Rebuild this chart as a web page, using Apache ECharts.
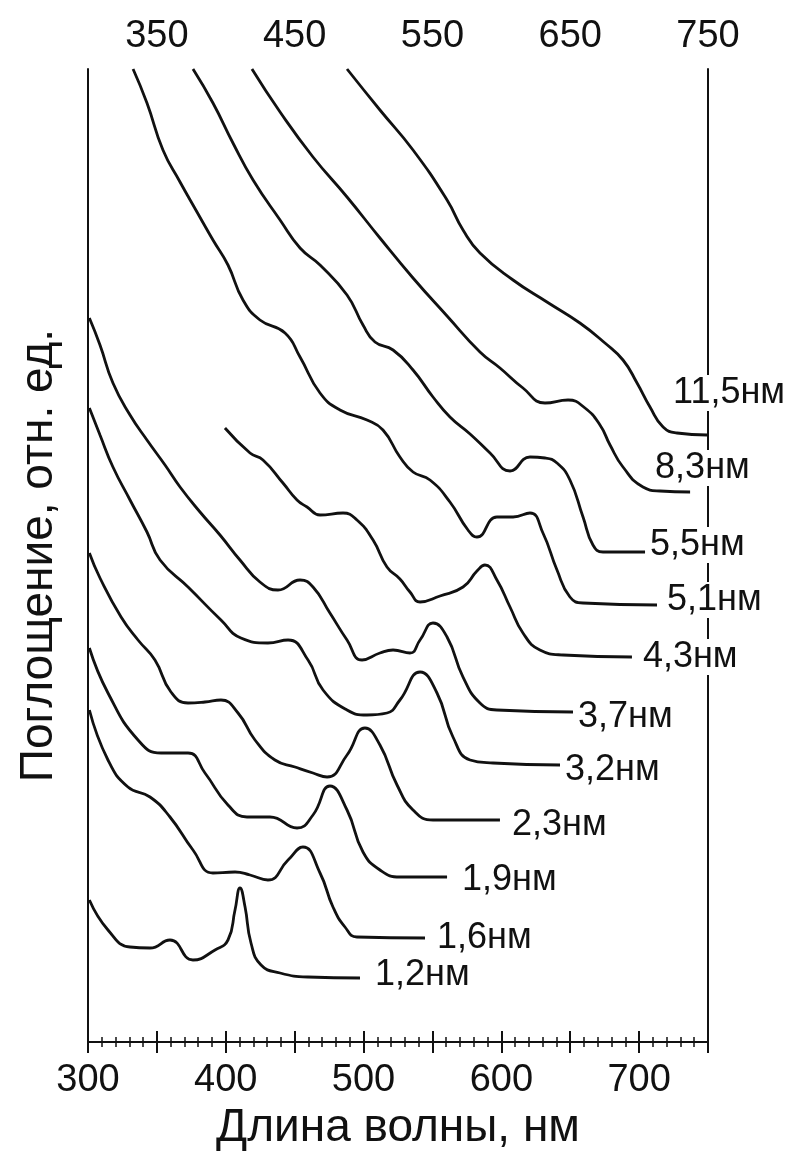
<!DOCTYPE html>
<html>
<head>
<meta charset="utf-8">
<script src="https://cdn.jsdelivr.net/npm/echarts@6/dist/echarts.min.js"></script>
<style>
    html, body { margin: 0; padding: 0; background: #fff; }
    #chart { width: 794px; height: 1153px; }
</style>
</head>
<body>
<div id="chart"></div>
<script>
    // размеры частиц (подписи кривых)
    var sizes = ['11,5нм', '8,3нм', '5,5нм', '5,1нм', '4,3нм', '3,7нм', '3,2нм', '2,3нм', '1,9нм', '1,6нм', '1,2нм'];
    var bottomLabels = [300, 400, 500, 600, 700];
    var topLabels = [350, 450, 550, 650, 750];

    // [длина волны, нм ; поглощение, отн. ед.]
    var c115 = [[488, 97.3], [511.9, 93.2], [535.9, 89.2], [560.6, 84.2], [572.2, 81.2], [584.5, 78.9], [608.5, 76.2], [633.1, 74.0], [657, 71.9], [675.2, 69.9], [688.3, 68.2], [698.5, 65.9], [707.9, 63.5], [717.4, 61.5], [727.5, 60.9], [749.3, 60.7]];
    var c83 = [[419, 97.3], [439.4, 93.0], [463.3, 88.5], [488, 84.5], [511.9, 80.4], [535.9, 76.4], [560.6, 72.6], [584.5, 69.0], [599, 67.4], [615.7, 65.4], [631.7, 63.9], [648.4, 64.2], [660.7, 63.4], [671.6, 61.7], [678.9, 59.7], [688.3, 57.5], [702.8, 55.5], [715.2, 55.1], [737, 55.0]];
    var c55 = [[376.2, 97.3], [390.7, 93.9], [405.2, 89.9], [419.8, 86.2], [439.4, 82.2], [453.9, 79.4], [468.4, 77.7], [488, 74.7], [499.6, 71.7], [508.3, 70.0], [521.4, 69.2], [535.9, 67.2], [550.4, 64.5], [562.7, 62.5], [577.3, 60.8], [591.8, 58.9], [606.3, 57.1], [620.8, 58.5], [631.7, 58.4], [640.4, 57.9], [649.8, 56.2], [659.3, 52.5], [666.5, 49.7], [673.8, 49.0], [704.3, 49.0]];
    var c51 = [[332.7, 97.3], [342.8, 93.9], [354.4, 89.2], [366.8, 86.0], [379.1, 83.0], [390.7, 80.2], [401.6, 77.7], [412.5, 74.2], [424.8, 72.2], [443, 70.9], [453.9, 68.5], [468.4, 64.9], [482.9, 63.2], [502.5, 62.2], [514.1, 61.2], [526.4, 58.5], [535.9, 57.0], [548.2, 56.2], [562.7, 54.0], [575.8, 51.2], [582.3, 50.5], [596.8, 52.5], [608.5, 52.5], [620.8, 52.9], [630.2, 50.9], [640.4, 47.2], [649.8, 44.5], [659.3, 43.9], [713, 43.7]];
    var c43 = [[399.4, 61.4], [417.6, 58.9], [427, 58.2], [441.5, 55.9], [451.7, 54.2], [459, 53.5], [468.4, 52.7], [485.1, 52.9], [495.2, 52.2], [506.9, 50.2], [517, 47.5], [526.4, 46.3], [533.7, 45.0], [541, 44.0], [555.5, 44.6], [572.2, 45.5], [582.3, 47.1], [588.1, 47.7], [596.8, 46.2], [606.3, 43.5], [615.7, 40.9], [628, 39.2], [644.8, 38.7], [694.8, 38.5]];
    var c37 = [[301, 72.4], [308.7, 69.7], [318.1, 65.9], [330.5, 62.7], [342.8, 60.2], [355.9, 57.7], [366.8, 55.5], [381.3, 53.0], [395.8, 50.7], [410.3, 48.2], [424.8, 46.0], [437.9, 45.2], [453.9, 46.2], [463.3, 45.5], [475.6, 42.9], [488, 40.2], [498.9, 38.2], [511.9, 38.9], [521.4, 39.2], [533.7, 38.9], [541, 40.2], [550.4, 41.9], [560.6, 40.5], [572.2, 36.5], [584.5, 33.9], [596.8, 33.2], [652, 33.0]];
    var c32 = [[301, 63.4], [308.7, 60.7], [318.1, 57.5], [330.5, 54.2], [342.8, 51.0], [352.3, 48.2], [372.6, 45.5], [396.5, 42.2], [411, 40.4], [430.6, 39.9], [445.2, 40.2], [459.7, 38.2], [470.6, 35.2], [488, 33.2], [502.5, 32.7], [517, 32.9], [526.4, 34.2], [541, 37.0], [553.3, 34.9], [564.9, 30.5], [577.3, 28.2], [594, 27.9], [642.6, 27.7]];
    var c23 = [[301, 48.9], [308.7, 46.4], [324, 42.5], [336.3, 40.2], [348.6, 38.2], [360.2, 35.0], [372.6, 33.9], [384.9, 34.0], [396.5, 34.2], [408.9, 32.9], [421.2, 30.2], [435.7, 28.2], [450.2, 27.5], [463.3, 26.9], [473.5, 26.5], [488, 28.7], [501, 31.4], [511.9, 29.7], [524.3, 25.7], [535.9, 23.2], [550.4, 22.2], [599, 22.2]];
    var c19 = [[301, 39.4], [314.5, 34.9], [336.3, 30.2], [353, 28.9], [372.6, 28.9], [384.9, 26.9], [401.6, 23.7], [415.4, 22.5], [432.1, 22.5], [451.7, 21.4], [463.3, 22.7], [475.6, 25.6], [488, 23.2], [499.6, 19.0], [511.9, 17.2], [526.4, 16.5], [560.6, 16.5]];
    var c16 = [[301, 33.2], [314.5, 28.2], [329, 25.5], [345, 24.5], [359.5, 22.5], [376.2, 19.2], [390.7, 16.9], [406.7, 17.0], [417.6, 16.7], [430.6, 16.2], [445.2, 18.2], [456, 19.5], [468.4, 16.9], [477.8, 13.5], [486.5, 11.5], [495.2, 10.5], [544.6, 10.4]];
    var c12 = [[301, 14.2], [314.5, 11.2], [330.5, 9.5], [345, 9.4], [359.5, 10.2], [376.2, 8.2], [392.2, 9.2], [401.6, 10.2], [406.7, 13.2], [410.3, 15.4], [414, 13.5], [418.3, 9.9], [425.6, 7.7], [439.4, 6.9], [459.7, 6.5], [497.4, 6.4]];

    var curves = [c115, c83, c55, c51, c43, c37, c32, c23, c19, c16, c12];
    // сдвиг подписей относительно конца кривой
    var labelOffsets = [[-39, -42], [-40, -24], [0, -7], [5, -5], [6, 0], [0, 5], [0, 5], [7, 5], [10, 3], [7, 0], [10, -3]];

    var font = "'Liberation Sans', Arial, sans-serif";

    function drawChart() {
        var myChart = echarts.init(document.getElementById('chart'));
        var series = curves.map(function (data, i) {
            return {
                type: 'line',
                data: data,
                smooth: 0.5,
                symbol: 'none',
                lineStyle: { color: '#111', width: 2.8 },
                endLabel: {
                    show: true,
                    formatter: sizes[i],
                    distance: 5,
                    offset: labelOffsets[i],
                    color: '#111',
                    fontSize: 36,
                    fontFamily: font,
                    backgroundColor: '#fff'
                }
            };
        });
        var axisBase = {
            type: 'value',
            min: 300,
            max: 750,
            interval: 50,
            axisLine: { show: true, lineStyle: { color: '#111', width: 2 } },
            axisTick: { show: true, inside: true, length: 11, lineStyle: { color: '#111', width: 2 } },
            minorTick: { show: true, splitNumber: 5, length: 5, lineStyle: { color: '#111', width: 1.5 } },
            splitLine: { show: false }
        };
        var option = {
            animation: false,
            backgroundColor: '#fff',
            grid: { left: 88, right: 86, top: 69, bottom: 111, outerBoundsMode: 'none', containLabel: false },
            xAxis: [
                Object.assign({}, axisBase, {
                    position: 'bottom',
                    name: 'Длина волны, нм',
                    nameLocation: 'middle',
                    nameGap: 60,
                    nameTextStyle: { color: '#111', fontSize: 46, fontFamily: font },
                    axisLabel: {
                        margin: 20, color: '#111', fontSize: 38, fontFamily: font,
                        formatter: function (v) { return bottomLabels.indexOf(v) >= 0 ? String(v) : ''; }
                    }
                }),
                Object.assign({}, axisBase, {
                    position: 'top',
                    axisLabel: {
                        margin: 13, color: '#111', fontSize: 38, fontFamily: font,
                        formatter: function (v) { return topLabels.indexOf(v) >= 0 ? String(v) : ''; }
                    }
                })
            ],
            yAxis: [{
                type: 'value',
                min: 0,
                max: 97.3,
                position: 'left',
                name: 'Поглощение, отн. ед.',
                nameLocation: 'middle',
                nameRotate: 90,
                nameGap: 26,
                nameTextStyle: { color: '#111', fontSize: 46, fontFamily: font },
                axisLine: { show: true, lineStyle: { color: '#111', width: 2 } },
                axisTick: { show: false },
                axisLabel: { show: false },
                splitLine: { show: false }
            }, {
                type: 'value',
                min: 0,
                max: 97.3,
                position: 'right',
                axisLine: { show: true, lineStyle: { color: '#111', width: 2 } },
                axisTick: { show: false },
                axisLabel: { show: false },
                splitLine: { show: false }
            }],
            series: series
        };
        myChart.setOption(option);
    }

    drawChart();
</script>
</body>
</html>
